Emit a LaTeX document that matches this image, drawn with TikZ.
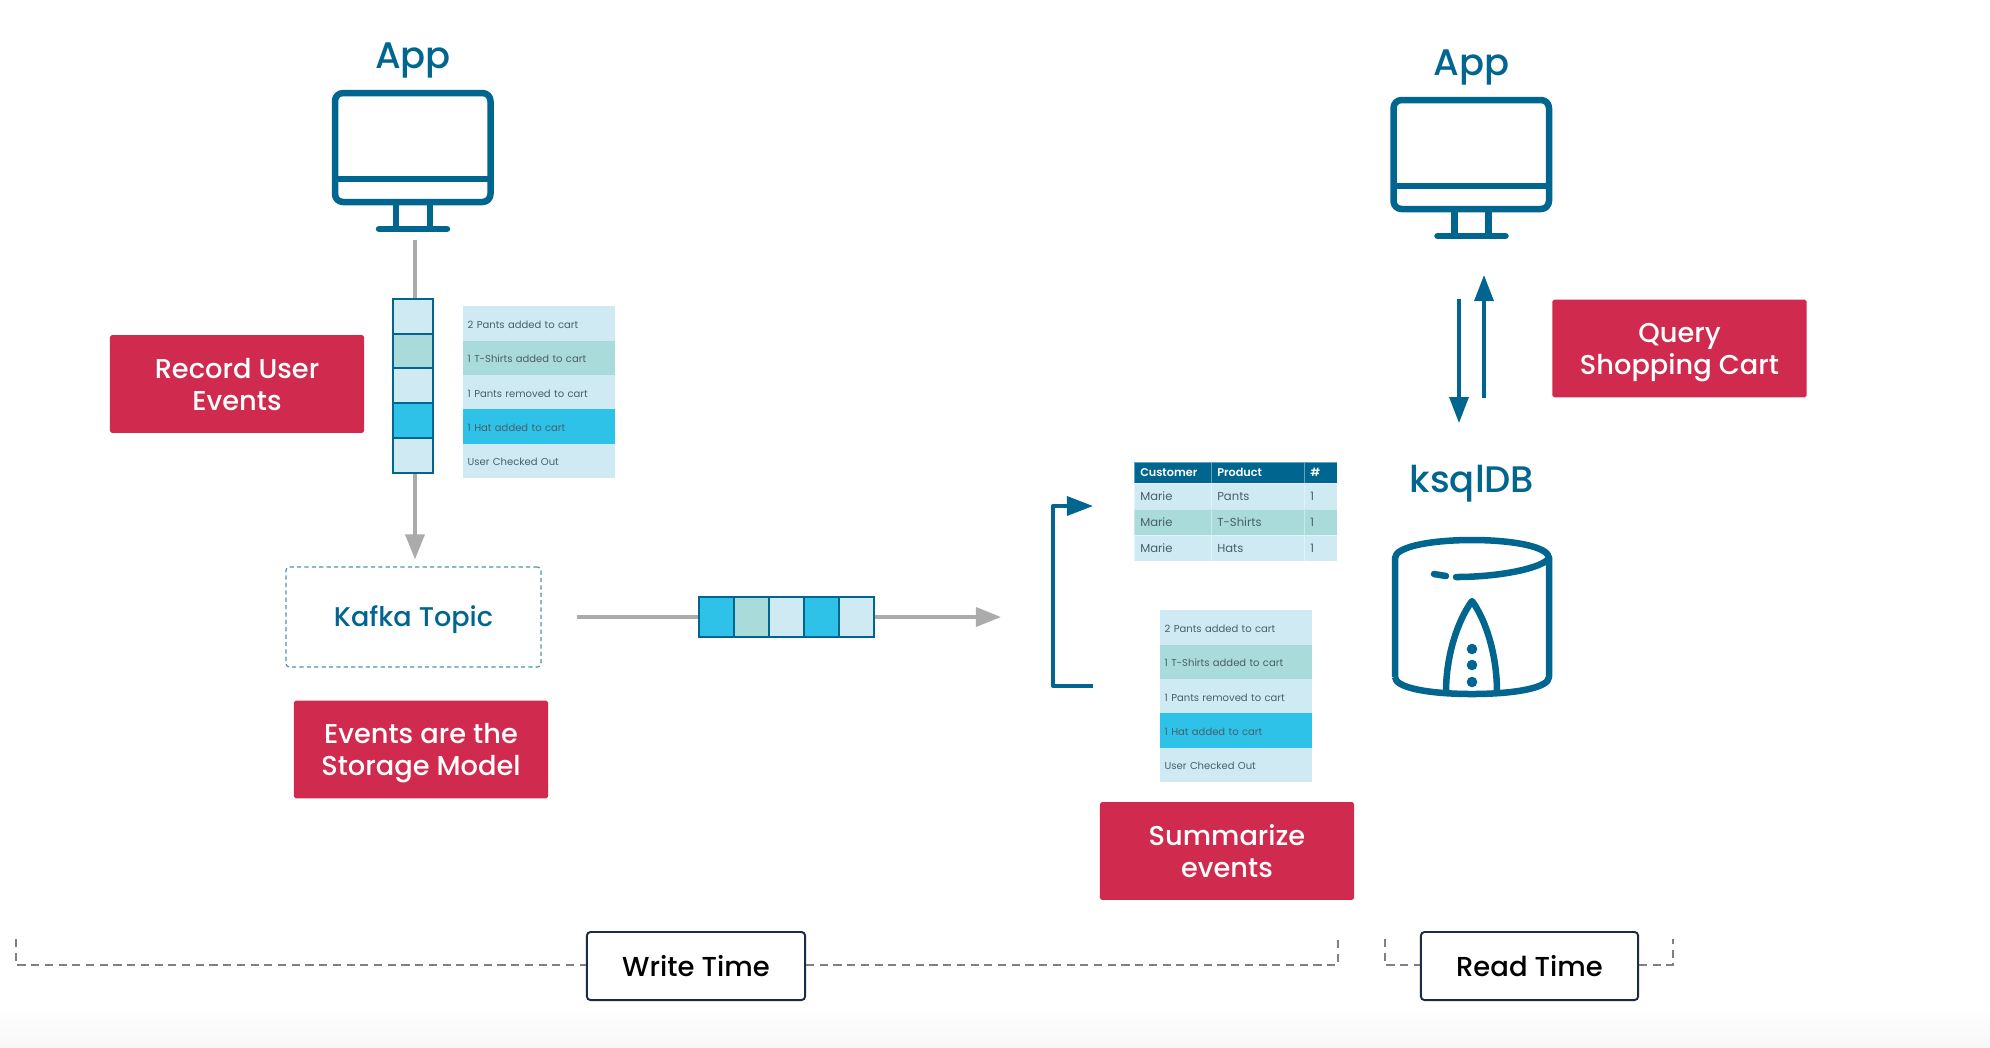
\documentclass[tikz,border=0pt]{standalone}
\usepackage{fontspec}
\setmainfont{Poppins}
\newfontfamily\medfont{Poppins Medium}
\newfontfamily\semifont{Poppins SemiBold}
\usetikzlibrary{arrows.meta, positioning, calc}

\definecolor{kblue}{HTML}{00668F}
\definecolor{kred}{HTML}{D02B4E}
\definecolor{lightrow}{HTML}{CFEAF3}
\definecolor{tealrow}{HTML}{A9DBDB}
\definecolor{cyanrow}{HTML}{2FC2E8}
\definecolor{rowtext}{HTML}{4A5F68}
\definecolor{linegray}{HTML}{ABABAB}
\definecolor{navy}{HTML}{1B2A4A}

% rows of the event list: number/colour/text
\newcommand{\eventrows}{1/lightrow/2 Pants added to cart, 2/tealrow/1 T-Shirts added to cart, 3/lightrow/1 Pants removed to cart, 4/cyanrow/1 Hat added to cart, 5/lightrow/User Checked Out}
\newcommand{\fpt}[2]{\fontsize{#1pt}{#2pt}\selectfont}
% two lines of a red note, held at the same height in every box
\newcommand{\twolines}[2]{\rule{0pt}{10.9pt}#1\\#2\rule[-5pt]{0pt}{0pt}}

\begin{document}
\begin{tikzpicture}[
        x=0.01cm, y=-0.01cm,
        title/.style={text=kblue, font=\medfont\fpt{10.5}{11}},
        note/.style={rectangle, fill=kred, text=white, rounded corners=0.5pt, minimum width=2.54cm, minimum height=0.975cm, align=center, inner sep=0pt, font=\medfont\fpt{7.75}{9.1}},
        timebox/.style={rectangle, draw=navy, fill=white, line width=0.55pt, rounded corners=1pt, minimum height=0.68cm, inner sep=0pt, text=black, font=\medfont\fpt{7.8}{9}},
        cellbox/.style={rectangle, draw=kblue, line width=0.55pt, inner sep=0pt},
        evrow/.style={rectangle, anchor=north west, minimum width=1.52cm, minimum height=0.344cm, text width=1.42cm, text height=3pt, text depth=0.2pt, inner xsep=0.05cm, inner ysep=0pt, align=left, text=rowtext, font=\fpt{2.85}{3.5}},
        tcell/.style={rectangle, anchor=north west, draw=white, draw opacity=0.4, line width=0.15pt, minimum height=0.26cm, inner xsep=0.06cm, inner ysep=0pt, align=left, text=rowtext, font=\fpt{3.3}{4}},
        garrow/.style={linegray, line width=1pt, -{Triangle[length=0.25cm, width=0.19cm]}},
        barrow/.style={kblue, line width=0.95pt, -{Triangle[length=0.26cm, width=0.19cm]}},
        icon/.style={kblue, line width=1.85pt, line join=round},
        tick/.style={gray, line width=0.6pt, dash pattern=on 2.3pt off 1.6pt}
    ]
        \useasboundingbox (0,0) rectangle (1990,1047);
        \fill[white] (0,0) rectangle (1990,1047);
        \shade[top color=white, bottom color=black!3] (0,1005) rectangle (1990,1047);

        % Monitors
        \foreach \nm/\mx/\my in {appl/0/0, appr/1058.5/7} {
            \begin{scope}[shift={(\mx,\my)}]
                \node[title] (\nm) at (413,60) {App};
                \draw[icon, rounded corners=0.08cm] (335,93) rectangle (490.5,202);
                \draw[icon] (335,179) -- (490,179);
                \draw[icon] (396,202) -- (396,229);
                \draw[icon] (430,202) -- (430,229);
                \draw[icon, line cap=round] (379,229) -- (447,229);
            \end{scope}
        }

        % User events
        \coordinate (appout) at (415,240);
        \foreach \i/\col in {1/lightrow, 2/tealrow, 3/lightrow, 4/cyanrow, 5/lightrow} {
            \node[cellbox, fill=\col, minimum width=0.4cm, minimum height=0.348cm] (ucell\i) at (413,281.4+\i*34.8) {};
        }
        \foreach \i/\col/\txt in \eventrows {
            \node[evrow, fill=\col] (eva\i) at (462,271+\i*34.4) {\txt};
        }
        \node[note] (record) at (237,384) {\twolines{Record User}{Events}};

        % Kafka topic
        \node[rectangle, draw=kblue!70, line width=0.35pt, dash pattern=on 1.2pt off 0.9pt, rounded corners=1pt, minimum width=2.55cm, minimum height=1cm, inner sep=0pt] (kafka) at (413.5,617) {};
        \node[text=kblue, font=\medfont\fpt{7.7}{9}] (kafkatxt) at (413.5,620) {Kafka Topic};
        \node[note] (storage) at (421,749.5) {\twolines{Events are the}{Storage Model}};
        \draw[linegray, line width=1pt] (appout) -- (appout |- ucell1.north);
        \draw[garrow, shorten >=7*0.2845pt] (appout |- ucell5.south) -- (appout |- kafka.north);

        % Topic stream
        \foreach \i/\col in {1/cyanrow, 2/tealrow, 3/lightrow, 4/cyanrow, 5/lightrow} {
            \node[cellbox, fill=\col, minimum width=0.35cm, minimum height=0.4cm] (hcell\i) at (681.5+\i*35,617) {};
        }
        \coordinate (sumin) at (1001,617);
        \draw[linegray, line width=1pt, shorten <=35*0.2845pt] (kafka.east) -- (hcell1.west);
        \draw[garrow] (hcell5.east) -- (sumin);

        % Table
        \foreach \c/\x/\w/\hd in {a/1134/0.77/Customer, b/1211/0.93/Product, c/1304/0.33/\#} {
            \node[tcell, fill=kblue, minimum width=\w cm, text width=\w cm-0.12cm, minimum height=0.21cm, text=white, font=\semifont\fpt{3.2}{4}] (th\c) at (\x,462) {\hd};
        }
        \foreach \r/\col/\y/\prod in {1/lightrow/483/Pants, 2/tealrow/509/T-Shirts, 3/lightrow/535/Hats} {
            \node[tcell, fill=\col, minimum width=0.77cm, text width=0.65cm] (td\r a) at (1134,\y) {Marie};
            \node[tcell, fill=\col, minimum width=0.93cm, text width=0.81cm] (td\r b) at (1211,\y) {\prod};
            \node[tcell, fill=\col, minimum width=0.33cm, text width=0.21cm] (td\r c) at (1304,\y) {1};
        }

        % Summarized events
        \foreach \i/\col/\txt in \eventrows {
            \node[evrow, fill=\col] (evb\i) at (1159,575+\i*34.4) {\txt};
        }
        \node[note] (summ) at (1227,851) {\twolines{Summarize}{events}};
        \coordinate (brkfrom) at (1093,686);
        \coordinate (brkto) at (1093,506);
        \draw[barrow, line join=round] (brkfrom) -- (1053,686) -- (1053,506) -- (brkto);

        % Query
        \node[note] (query) at (1679.5,348.5) {\twolines{Query}{Shopping Cart}};
        \coordinate (qdowna) at (1459,299);
        \coordinate (qdownb) at (1459,423);
        \coordinate (qupa) at (1484,398);
        \coordinate (qupb) at (1484,275);
        \draw[barrow] (qdowna) -- (qdownb);
        \draw[barrow] (qupa) -- (qupb);

        % ksqlDB
        \node[title] (ksql) at (1472,484) {ksqlDB};
        \draw[icon] (1395,677) -- (1395,558) .. controls (1395,547) and (1430,540) .. (1472,540) .. controls (1514,540) and (1549,547) .. (1549,558) -- (1549,677) .. controls (1549,688) and (1514,694) .. (1472,694) .. controls (1430,694) and (1395,688) .. (1395,677);
        \draw[icon, line cap=round] (1549,558) .. controls (1543,568) and (1500,577) .. (1456,577);
        \draw[icon, line cap=round] (1434,574) -- (1446,576);
        \draw[icon] (1446,692) .. controls (1446,655) and (1458,620) .. (1472,601) .. controls (1486,620) and (1497,655) .. (1497,692);
        \foreach \y in {649, 665, 682} {
            \fill[kblue] (1472,\y) circle (0.053cm);
        }

        % Time axis
        \node[timebox, minimum width=2.18cm] (write) at (696,966) {Write Time};
        \node[timebox, minimum width=2.17cm] (read) at (1529.5,966) {Read Time};
        \coordinate (wl) at (16,939);
        \coordinate (wr) at (1338,939);
        \coordinate (rl) at (1385,939);
        \coordinate (rr) at (1673,939);
        \draw[tick] (wl) |- (write.west |- 0,965);
        \draw[tick] (write.east |- 0,965) -| (wr);
        \draw[tick] (rl) |- (read.west |- 0,965);
        \draw[tick] (read.east |- 0,965) -| (rr);
    \end{tikzpicture}
\end{document}
